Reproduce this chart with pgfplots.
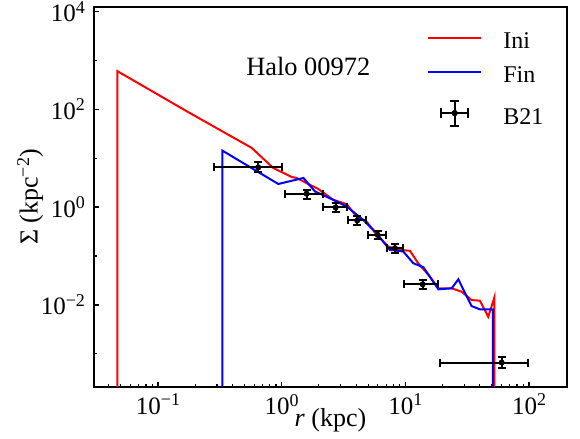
\documentclass[border=0pt]{standalone}
\usepackage{fontspec}
\setmainfont{Liberation Serif}
\usepackage{pgfplots}
\pgfplotsset{compat=1.18}
\newcommand\sups[1]{\raisebox{4.3pt}{\fontsize{9}{10}\selectfont #1}}
\pgfplotsset{
  linelegend/.style={legend image code/.code={\draw[##1] (0pt,2.5pt) -- (26.7pt,2.5pt);}},
  errlegend/.style={legend image code/.code={
    \begin{scope}[yshift=2.5pt]
    \draw[black,line width=1pt] (6.65pt,0pt) -- (20.05pt,0pt);
    \draw[black,line width=1pt] (13.35pt,-6.25pt) -- (13.35pt,6.25pt);
    \draw[black,line width=1pt] (6.65pt,-2.5pt) -- (6.65pt,2.5pt);
    \draw[black,line width=1pt] (20.05pt,-2.5pt) -- (20.05pt,2.5pt);
    \draw[black,line width=1pt] (11.1pt,-6.25pt) -- (15.6pt,-6.25pt);
    \draw[black,line width=1pt] (11.1pt,6.25pt) -- (15.6pt,6.25pt);
    \fill[black] (13.35pt,0pt) circle (1.4pt);
    \end{scope}}},
}
\begin{document}
\begin{tikzpicture}
\begin{axis}[
  at={(0,0)},anchor=south west,
  scale only axis,width=236.5pt,height=189.85pt,
  xmode=log,ymode=log,
  xmin=0.0304,xmax=202.8,ymin=2.07e-4,ymax=1.23e4,
  axis line style={line width=1.1pt},
  tick pos=left,tick align=inside,
  major tick length=2.6pt,minor tick length=1.5pt,
  every major tick/.style={line width=0.8pt,black},
  every minor tick/.style={line width=0.6pt,black},
  xtick={0.1,1,10,100},
  xticklabels={10\sups{−1},10\sups{0},10\sups{1},10\sups{2}},
  minor xtick={0.04,0.05,0.06,0.07,0.08,0.09,0.2,0.3,0.4,0.5,0.6,0.7,0.8,0.9,2,3,4,5,6,7,8,9,20,30,40,50,60,70,80,90,200},
  ytick={1e-2,1,1e2,1e4},
  yticklabels={10\sups{−2},10\sups{0},10\sups{2},10\sups{4}},
  minor ytick={1e-3,1e-1,10,1e3},
  tick label style={font=\fontsize{12.5}{14}\selectfont},
  yticklabel style={xshift=-1pt},
  xlabel={\textit{r} (kpc)},
  ylabel={Σ (kpc\sups{−2})},
  label style={font=\fontsize{13}{15}\selectfont},
  xlabel style={at={(axis description cs:0.5,-0.087)},anchor=center},
  ylabel style={at={(axis description cs:-0.135,0.5)},anchor=center,rotate=0},
  legend style={draw=none,fill=none,at={(axis description cs:0.703,0.937)},anchor=north west,
    font=\fontsize{12}{14}\selectfont,row sep=6pt,inner sep=0pt,
    nodes={inner sep=0pt,text height=8.5pt,text depth=2.5pt},
    /tikz/every odd column/.append style={column sep=10.5pt}},
  legend cell align=left,
]
\addplot[red,line width=1pt,linelegend] coordinates {
(0.0469,1e-10) (0.0469,608) (0.176,87.7) (0.572,16.3) (0.855,6.32) (1.205,4.13)
(1.32,3.94) (1.98,2.34) (2.61,1.41) (3.35,1.15) (4.03,0.641) (4.86,0.506)
(5.86,0.270) (7.27,0.155) (9.04,0.133) (10.9,0.127) (12.7,0.0708) (15.8,0.0376)
(18.5,0.0217) (23.7,0.0217) (28.5,0.0185) (34.3,0.0125) (40.1,0.0121)
(46.8,0.00567) (52.5,0.0142) (52.5,1e-10)};
\addlegendentry{Ini}
\addplot[blue,line width=1pt,linelegend] coordinates {
(0.332,1e-10) (0.332,14.3) (0.939,2.97) (1.50,3.94) (1.86,2.09) (2.61,1.41)
(3.35,1.03) (4.56,0.548) (5.86,0.292) (7.48,0.133) (9.62,0.123) (11.6,0.0708)
(14.0,0.0586) (18.5,0.0207) (23.7,0.0217) (26.8,0.0332) (34.3,0.0094)
(40.1,0.00805) (51.0,0.00805) (51.0,1e-10)};
\addlegendentry{Fin}
\addplot[black,only marks,mark=*,mark size=1.3pt,errlegend,
  error bars/.cd,x dir=both,x explicit,y dir=both,y explicit,
  error bar style={line width=1pt,black},
  error mark options={black,rotate=90,mark size=2pt,line width=1pt}] coordinates {
(0.647,6.50) += (0.353,1.74) -= (0.363,1.37)
(1.59,1.88) += (0.58,0.38) -= (0.53,0.42)
(2.73,0.98) += (0.62,0.23) -= (0.56,0.206)
(4.08,0.531) += (0.73,0.132) -= (0.66,0.104)
(5.97,0.270) += (1.00,0.061) -= (1.02,0.050)
(8.24,0.144) += (1.38,0.030) -= (1.18,0.030)
(13.8,0.0262) += (4.7,0.006) -= (4.05,0.0055)
(60.1,6.56e-4) += (38.5,2.0e-4) -= (41.0,1.38e-4)};
\addlegendentry{B21}
\node[font=\fontsize{13.2}{15}\selectfont,anchor=center] at (rel axis cs:0.453,0.843) {Halo 00972};
\end{axis}
\pgfresetboundingbox
\useasboundingbox (-47pt,-26pt) rectangle (243pt,193.5pt);
\end{tikzpicture}
\end{document}
